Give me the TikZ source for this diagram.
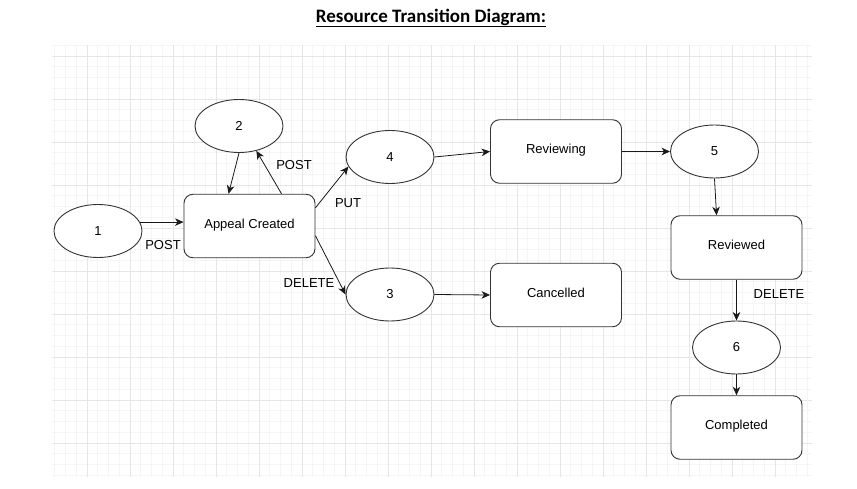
\documentclass[tikz,border=0pt]{standalone}
\usepackage{fontspec}
\setmainfont{Liberation Sans}
\newfontfamily\titlefont{Carlito}
\usetikzlibrary{shapes.geometric,arrows.meta,calc}
\definecolor{gminor}{HTML}{F5F5F5}
\definecolor{gmajor}{HTML}{E6E6E6}
\definecolor{edge}{HTML}{333333}
\tikzset{
  state/.style={ellipse,draw=edge,line width=0.9pt,fill=white,inner sep=0pt,
    minimum width=88pt,minimum height=53pt,font=\fontsize{13}{15}\selectfont},
  stbox/.style={rectangle,rounded corners=9pt,draw=edge,line width=0.9pt,fill=white,
    minimum width=131pt,minimum height=63.5pt,inner sep=0pt,text height=9.5pt,text depth=5pt,
    font=\fontsize{13}{15}\selectfont},
  conn/.style={draw=black!90,line width=0.8pt,-{Stealth[length=8.5pt,width=7.5pt,inset=2.5pt]}},
  lbl/.style={inner sep=0pt,font=\fontsize{13}{15}\selectfont},
}
\begin{document}
\begin{tikzpicture}[x=1pt,y=-1pt]
\useasboundingbox[fill=white] (0,0) rectangle (857,489);
% grid
\foreach \i in {-3,...,67} \draw[gminor,line width=0.8pt] ({87+\i*10.75},45) -- ({87+\i*10.75},477);
\foreach \j in {-1,...,39} \draw[gminor,line width=0.8pt] (52,{56+\j*10.75}) -- (812,{56+\j*10.75});
\foreach \i in {0,...,16} \draw[gmajor,line width=0.8pt] ({87+\i*43},45) -- ({87+\i*43},477);
\foreach \j in {0,...,9} \draw[gmajor,line width=0.8pt] (52,{56+\j*43}) -- (812,{56+\j*43});
% title
\node[inner sep=0pt,font=\titlefont\bfseries\fontsize{19}{21}\selectfont] (title) at (431,18) {\underline{Resource Transition Diagram:}};
% nodes
\node[state] (e1) at (98,231) {1};
\node[state] (e2) at (239,126) {2};
\node[stbox] (ac) at (249.5,226) {Appeal Created};
\node[state] (e4) at (390,157) {4};
\node[state] (e3) at (390,294.5) {3};
\node[stbox] (rv) at (556,151.5) {Reviewing};
\node[stbox] (cn) at (556,295) {Cancelled};
\node[state] (e5) at (714.5,151.5) {5};
\node[stbox] (rd) at (736.5,247.5) {Reviewed};
\node[state] (e6) at (736.5,347.5) {6};
\node[stbox] (cp) at (736.5,427.5) {Completed};
% connectors
\draw[conn] (e1.12) -- (e1.12 -| ac.west);
\draw[conn] (e2.south) -- ($(ac.north west)+(45,0)$);
\draw[conn] ($(ac.north west)+(98,0)$) -- (e2.-55);
\draw[conn] ($(ac.north east)+(0,14)$) -- (e4.193);
\draw[conn] ($(ac.north east)+(0,42)$) -- (e3.west);
\draw[conn] (e4.east) -- (rv.west);
\draw[conn] (e3.east) -- (cn.west);
\draw[conn] (rv.east) -- (e5.west);
\draw[conn] (e5.south) -- ($(rd.north west)+(46,0)$);
\draw[conn] (rd.south) -- (e6.north);
\draw[conn] (e6.south) -- (cp.north);
% labels
\node[lbl] (l1) at (163,245) {POST};
\node[lbl] (l2) at (294,165) {POST};
\node[lbl] (l3) at (348,203) {PUT};
\node[lbl] (l4) at (309,283) {DELETE};
\node[lbl] (l5) at (779,294) {DELETE};
\end{tikzpicture}
\end{document}
